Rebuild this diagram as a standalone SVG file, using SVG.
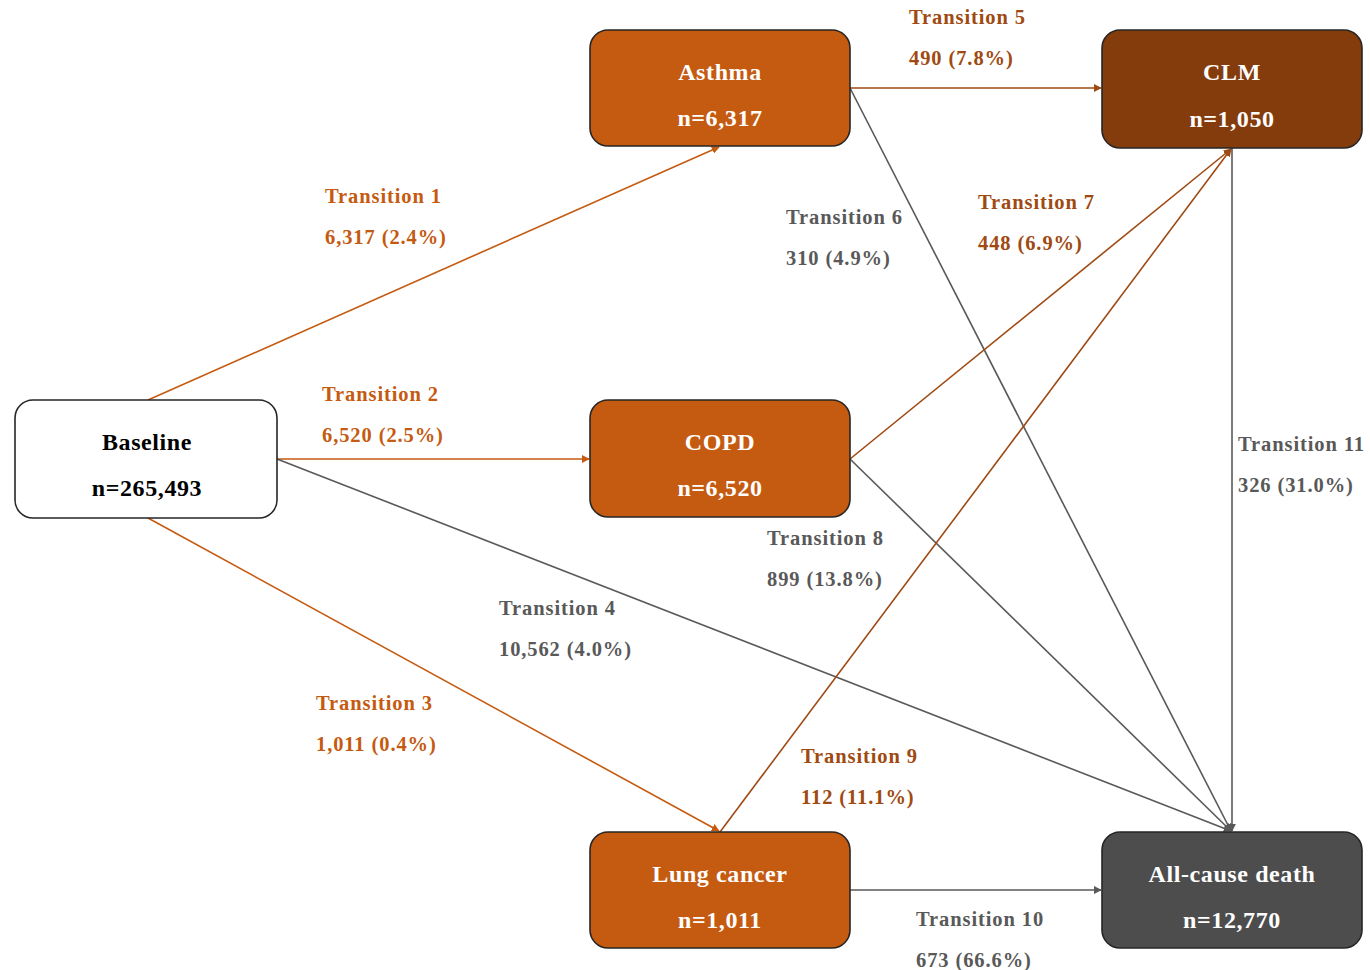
<svg xmlns="http://www.w3.org/2000/svg" width="1370" height="970" viewBox="0 0 1370 970">
<style>
.box{stroke:#262626;stroke-width:1.6}
.nt{font-family:"Liberation Serif","Times New Roman",serif;font-weight:bold;font-size:24px;text-anchor:middle;letter-spacing:0.6px}
.lb{font-family:"Liberation Serif","Times New Roman",serif;font-weight:bold;font-size:20.5px;letter-spacing:0.9px}
.or{fill:#C55A11}
.br{fill:#9E4A12}
.gy{fill:#595959}
.lo{stroke:#C55A11;stroke-width:1.6;fill:none}
.lbr{stroke:#9E4A12;stroke-width:1.6;fill:none}
.lg{stroke:#595959;stroke-width:1.6;fill:none}
</style>
<defs>
<marker id="aO" viewBox="0 0 10 10" refX="9" refY="5" markerWidth="8" markerHeight="8" orient="auto" markerUnits="userSpaceOnUse"><path d="M0,0 L10,5 L0,10 z" fill="#C55A11"/></marker>
<marker id="aB" viewBox="0 0 10 10" refX="9" refY="5" markerWidth="8" markerHeight="8" orient="auto" markerUnits="userSpaceOnUse"><path d="M0,0 L10,5 L0,10 z" fill="#9E4A12"/></marker>
<marker id="aG" viewBox="0 0 10 10" refX="9" refY="5" markerWidth="8" markerHeight="8" orient="auto" markerUnits="userSpaceOnUse"><path d="M0,0 L10,5 L0,10 z" fill="#595959"/></marker>
</defs>
<rect width="1370" height="970" fill="#ffffff"/>
<g id="connectors">
<line class="lo" x1="148" y1="400" x2="719" y2="147" marker-end="url(#aO)"/>
<line class="lo" x1="277" y1="459" x2="589" y2="459" marker-end="url(#aO)"/>
<line class="lo" x1="148" y1="518" x2="719" y2="831" marker-end="url(#aO)"/>
<line class="lg" x1="277" y1="459" x2="1231" y2="831" marker-end="url(#aG)"/>
<line class="lbr" x1="850" y1="88" x2="1101" y2="88" marker-end="url(#aB)"/>
<line class="lg" x1="850" y1="88" x2="1231" y2="831" marker-end="url(#aG)"/>
<line class="lbr" x1="850" y1="459" x2="1231" y2="149" marker-end="url(#aB)"/>
<line class="lg" x1="850" y1="459" x2="1231" y2="831" marker-end="url(#aG)"/>
<line class="lbr" x1="720" y1="832" x2="1231" y2="149" marker-end="url(#aB)"/>
<line class="lg" x1="850" y1="890" x2="1101" y2="890" marker-end="url(#aG)"/>
<line class="lg" x1="1232" y1="148" x2="1232" y2="831" marker-end="url(#aG)"/>
</g>
<g id="labels">
<text class="lb or" x="325" y="203">Transition 1</text>
<text class="lb or" x="325" y="244">6,317 (2.4%)</text>
<text class="lb or" x="322" y="401">Transition 2</text>
<text class="lb or" x="322" y="442">6,520 (2.5%)</text>
<text class="lb or" x="316" y="710">Transition 3</text>
<text class="lb or" x="316" y="751">1,011 (0.4%)</text>
<text class="lb gy" x="499" y="615">Transition 4</text>
<text class="lb gy" x="499" y="656">10,562 (4.0%)</text>
<text class="lb br" x="909" y="24">Transition 5</text>
<text class="lb br" x="909" y="65">490 (7.8%)</text>
<text class="lb gy" x="786" y="224">Transition 6</text>
<text class="lb gy" x="786" y="265">310 (4.9%)</text>
<text class="lb br" x="978" y="209">Transition 7</text>
<text class="lb br" x="978" y="250">448 (6.9%)</text>
<text class="lb gy" x="767" y="545">Transition 8</text>
<text class="lb gy" x="767" y="586">899 (13.8%)</text>
<text class="lb br" x="801" y="763">Transition 9</text>
<text class="lb br" x="801" y="804">112 (11.1%)</text>
<text class="lb gy" x="916" y="926">Transition 10</text>
<text class="lb gy" x="916" y="967">673 (66.6%)</text>
<text class="lb gy" x="1238" y="451">Transition 11</text>
<text class="lb gy" x="1238" y="492">326 (31.0%)</text>
</g>
<g id="baseline">
<rect class="box" x="15" y="400" width="262" height="118" rx="18" fill="#ffffff"/>
<text class="nt" x="147" y="450" fill="#000000">Baseline</text>
<text class="nt" x="147" y="496" fill="#000000">n=265,493</text>
</g>
<g id="asthma">
<rect class="box" x="590" y="30" width="260" height="116" rx="18" fill="#C55A11"/>
<text class="nt" x="720" y="80" fill="#ffffff">Asthma</text>
<text class="nt" x="720" y="126" fill="#ffffff">n=6,317</text>
</g>
<g id="copd">
<rect class="box" x="590" y="400" width="260" height="117" rx="18" fill="#C55A11"/>
<text class="nt" x="720" y="450" fill="#ffffff">COPD</text>
<text class="nt" x="720" y="496" fill="#ffffff">n=6,520</text>
</g>
<g id="lungcancer">
<rect class="box" x="590" y="832" width="260" height="116" rx="18" fill="#C55A11"/>
<text class="nt" x="720" y="882" fill="#ffffff">Lung cancer</text>
<text class="nt" x="720" y="928" fill="#ffffff">n=1,011</text>
</g>
<g id="clm">
<rect class="box" x="1102" y="30" width="260" height="118" rx="18" fill="#843C0C"/>
<text class="nt" x="1232" y="80" fill="#ffffff">CLM</text>
<text class="nt" x="1232" y="127" fill="#ffffff">n=1,050</text>
</g>
<g id="death">
<rect class="box" x="1102" y="832" width="260" height="116" rx="18" fill="#4D4D4D"/>
<text class="nt" x="1232" y="882" fill="#ffffff">All-cause death</text>
<text class="nt" x="1232" y="928" fill="#ffffff">n=12,770</text>
</g>
</svg>
